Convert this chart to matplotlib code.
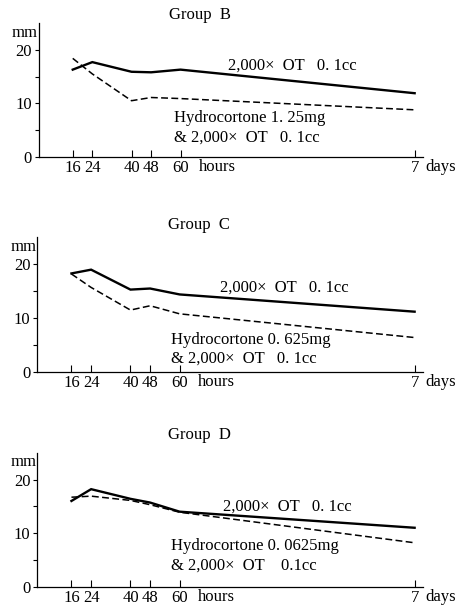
import numpy as np
import matplotlib.pyplot as plt

plt.rcParams['font.family'] = ['Liberation Serif', 'DejaVu Serif']
plt.rcParams['font.size'] = 12

# time points (hours); last one is 7 days
hours = [16, 24, 40, 48, 60, 168]
tick_labels = ['16', '24', '40', '48', '60', '7']

groups = ['Group  B', 'Group  C', 'Group  D']
ot_only = [
    [16.3, 17.7, 15.9, 15.8, 16.3, 11.9],
    [18.3, 19.0, 15.3, 15.5, 14.4, 11.2],
    [16.0, 18.2, 16.4, 15.7, 14.0, 11.0],
]
hydro = [
    [18.4, 15.5, 10.5, 11.1, 10.9, 8.8],
    [18.2, 15.7, 11.5, 12.3, 10.8, 6.4],
    [16.7, 16.9, 16.1, 15.3, 13.9, 8.2],
]
ot_text = ['2,000×  OT   0. 1cc', '2,000×  OT   0. 1cc', '2,000×  OT   0. 1cc']
hy_text = [
    ('Hydrocortone 1. 25mg', '& 2,000×  OT   0. 1cc'),
    ('Hydrocortone 0. 625mg', '& 2,000×  OT   0. 1cc'),
    ('Hydrocortone 0. 0625mg', '& 2,000×  OT    0.1cc'),
]

# layout
axes_rects = [
    [0.083, 0.7405, 0.824, 0.2215],
    [0.080, 0.3851, 0.827, 0.2226],
    [0.080, 0.0302, 0.827, 0.2215],
]
title_y = [1.06, 1.09, 1.13]
ot_label = [(81.7, 17.1), (78.4, 15.6), (79.8, 15.0)]
hy_label = [(57.2, 7.3, 3.7), (56.4, 5.9, 2.5), (56.4, 7.6, 3.9)]

# axis is compressed after 60 h (days part)
K = 0.885


def fwd(h):
    h = np.asarray(h, dtype=float)
    return np.where(h <= 60, h, 60 + (h - 60) * K)


def inv(u):
    u = np.asarray(u, dtype=float)
    return np.where(u <= 60, u, 60 + (u - 60) / K)


fig = plt.figure(figsize=(4.66, 6.05), dpi=100)

for i in range(3):
    ax = fig.add_axes(axes_rects[i])
    ax.set_xscale('function', functions=(fwd, inv))
    ax.plot(hours, ot_only[i], color='black', lw=1.7, solid_joinstyle='miter')
    ax.plot(hours, hydro[i], color='black', lw=1.1, dashes=(4.5, 2.2))

    ax.set_xlim(2.1, 171.7)
    ax.set_ylim(0, 25)
    for s in ['top', 'right']:
        ax.spines[s].set_visible(False)
    for s in ['left', 'bottom']:
        ax.spines[s].set_linewidth(0.9)

    ax.set_xticks(hours)
    ax.set_xticklabels(tick_labels)
    ax.set_xticks([], minor=True)
    ax.set_yticks([0, 10, 20])
    ax.set_yticks([5, 15], minor=True)
    ax.tick_params(axis='x', direction='in', length=5, width=0.8, pad=2)
    ax.tick_params(axis='y', which='both', direction='out', length=3, width=0.8, pad=2)

    ax.text(0.42, title_y[i], groups[i], transform=ax.transAxes,
            ha='center', va='center')
    ax.text(-0.036, 23.2, 'mm', transform=ax.get_yaxis_transform(),
            ha='center', va='center')
    ax.annotate('hours', xy=(60, 0), xycoords=ax.get_xaxis_transform(),
                xytext=(13, -7.5), textcoords='offset points', ha='left', va='center')
    ax.annotate('days', xy=(168, 0), xycoords=ax.get_xaxis_transform(),
                xytext=(8, -7.5), textcoords='offset points', ha='left', va='center')

    ax.text(ot_label[i][0], ot_label[i][1], ot_text[i], ha='left', va='center')
    hx, hy1, hy2 = hy_label[i]
    ax.text(hx, hy1, hy_text[i][0], ha='left', va='center')
    ax.text(hx, hy2, hy_text[i][1], ha='left', va='center')

fig.savefig('out.png', dpi=100)
